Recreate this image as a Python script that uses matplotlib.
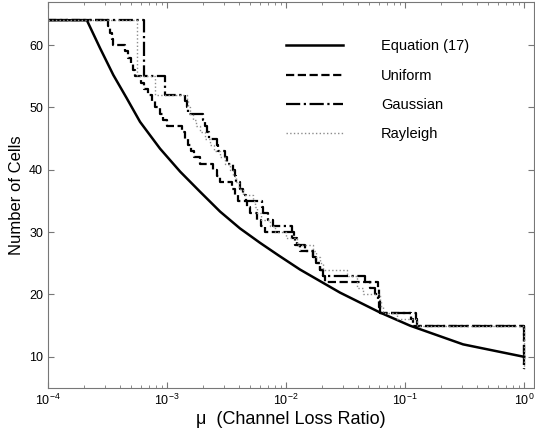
import matplotlib
matplotlib.use('Agg')
import matplotlib.pyplot as plt
import numpy as np

plt.rcParams['font.family'] = ['Liberation Sans', 'DejaVu Sans']

# Equation (17)
mu_eq = [1e-4, 2.12e-4, 2.74e-4, 3.54e-4, 4.58e-4, 5.93e-4, 8.73e-4, 1.29e-3,
         1.89e-3, 2.79e-3, 4.10e-3, 6.03e-3, 8.60e-3, 1.31e-2, 2.84e-2,
         6.17e-2, 0.110, 0.307, 1.0]
n_eq = [64, 64, 59.5, 55.2, 51.5, 47.7, 43.4, 39.7, 36.5, 33.3, 30.6, 28.3,
        26.3, 24.0, 20.3, 17.1, 15.0, 12.0, 10.0]

# Uniform
mu_uni = [1e-4, 3.19e-4, 3.32e-4, 3.45e-4, 3.54e-4, 4.43e-4, 4.70e-4, 4.95e-4,
          5.18e-4, 5.38e-4, 6.00e-4, 6.41e-4, 6.92e-4, 7.48e-4, 7.93e-4,
          8.73e-4, 9.25e-4, 1.00e-3, 1.34e-3, 1.42e-3, 1.50e-3, 1.58e-3,
          1.70e-3, 1.89e-3, 2.44e-3, 2.63e-3, 2.79e-3, 3.52e-3, 3.72e-3,
          3.95e-3, 4.70e-3, 5.00e-3, 5.70e-3, 6.20e-3, 6.67e-3, 1.12e-2,
          1.20e-2, 1.31e-2, 1.69e-2, 1.79e-2, 1.93e-2, 2.05e-2, 2.13e-2,
          5.93e-2, 6.00e-2, 6.05e-2, 6.10e-2, 6.17e-2, 0.112, 0.116, 1.0]
n_uni = [64, 63, 62, 61, 60, 59, 58, 57, 56, 55, 54, 53, 52, 51, 50, 49, 48,
         47, 46, 45, 44, 43, 42, 41, 40, 39, 38, 37, 36, 35, 34, 33, 32, 31,
         30, 29, 28, 27, 26, 25, 24, 23, 22, 21, 20, 19, 18, 17, 16, 15, 8]

# Gaussian
mu_gau = [1e-4, 6.41e-4, 9.62e-4, 1.42e-3, 1.47e-3, 1.50e-3, 2.01e-3, 2.08e-3,
          2.17e-3, 2.25e-3, 2.63e-3, 2.69e-3, 3.07e-3, 3.19e-3, 3.59e-3,
          3.72e-3, 3.80e-3, 4.10e-3, 4.36e-3, 4.61e-3, 6.28e-3, 6.41e-3,
          7.06e-3, 7.78e-3, 1.12e-2, 1.17e-2, 1.24e-2, 1.45e-2, 1.69e-2,
          1.79e-2, 1.93e-2, 2.05e-2, 4.60e-2, 5.08e-2, 5.60e-2, 5.93e-2,
          6.05e-2, 6.17e-2, 0.124, 0.126, 1.0]
n_gau = [64, 55, 52, 51, 50, 49, 48, 47, 46, 45, 44, 43, 42, 41, 40, 39, 38,
         37, 36, 35, 34, 33, 32, 31, 30, 29, 28, 27, 26, 25, 24, 23, 22, 21,
         20, 19, 18, 17, 16, 15, 8]

# Rayleigh
mu_ray = [1e-4, 5.60e-4, 7.93e-4, 1.47e-3, 1.50e-3, 1.56e-3, 1.65e-3,
          1.75e-3, 1.89e-3, 2.08e-3, 2.30e-3, 2.50e-3, 2.79e-3, 3.07e-3,
          3.38e-3, 3.59e-3, 3.80e-3, 4.00e-3, 4.36e-3, 5.28e-3, 5.50e-3,
          5.70e-3, 6.20e-3, 7.30e-3, 8.00e-3, 1.00e-2, 1.24e-2, 1.69e-2,
          1.79e-2, 1.93e-2, 2.05e-2, 3.26e-2, 3.95e-2, 4.40e-2, 6.17e-2,
          6.30e-2, 6.53e-2, 8.57e-2, 0.126, 1.0]
n_ray = [64, 55, 52, 51, 50, 49, 48, 47, 46, 45, 44, 43, 42, 41, 40, 39, 38,
         37, 36, 35, 34, 33, 32, 31, 30, 29, 28, 27, 26, 25, 24, 23, 21, 20,
         19, 18, 17, 16, 15, 8]

fig = plt.figure(figsize=(5.35, 4.32), dpi=100)
ax = fig.add_axes([48/535, 1 - 388/432, 486/535, 386.5/432])

ax.plot(mu_eq, n_eq, color='black', lw=1.8, label='Equation (17)')
ax.step(mu_uni, n_uni, where='post', color='black', lw=1.6, ls='--', label='Uniform')
ax.step(mu_gau, n_gau, where='post', color='black', lw=1.6, ls='-.', label='Gaussian')
ax.step(mu_ray, n_ray, where='post', color='#8c8c8c', lw=1.0, ls=':', label='Rayleigh')

ax.set_xscale('log')
ax.set_xlim(1e-4, 1.21)
ax.set_ylim(5, 67)
ax.set_yticks([10, 20, 30, 40, 50, 60])

for s in ax.spines.values():
    s.set_color('#777777')
ax.tick_params(which='both', direction='in', top=True, right=True,
               color='#777777', labelsize=9)
ax.tick_params(which='major', length=4)
ax.tick_params(which='minor', length=2.5)

ax.set_xlabel(u'\u03bc  (Channel Loss Ratio)', fontsize=13, labelpad=2)
ax.set_ylabel('Number of Cells', fontsize=12)

ax.legend(loc='upper left', bbox_to_anchor=(0.49, 0.902), frameon=False,
          fontsize=10.5, handlelength=3.9, handletextpad=2.6, labelspacing=1.05,
          borderpad=0, borderaxespad=0)

fig.savefig('out.png', dpi=100)
